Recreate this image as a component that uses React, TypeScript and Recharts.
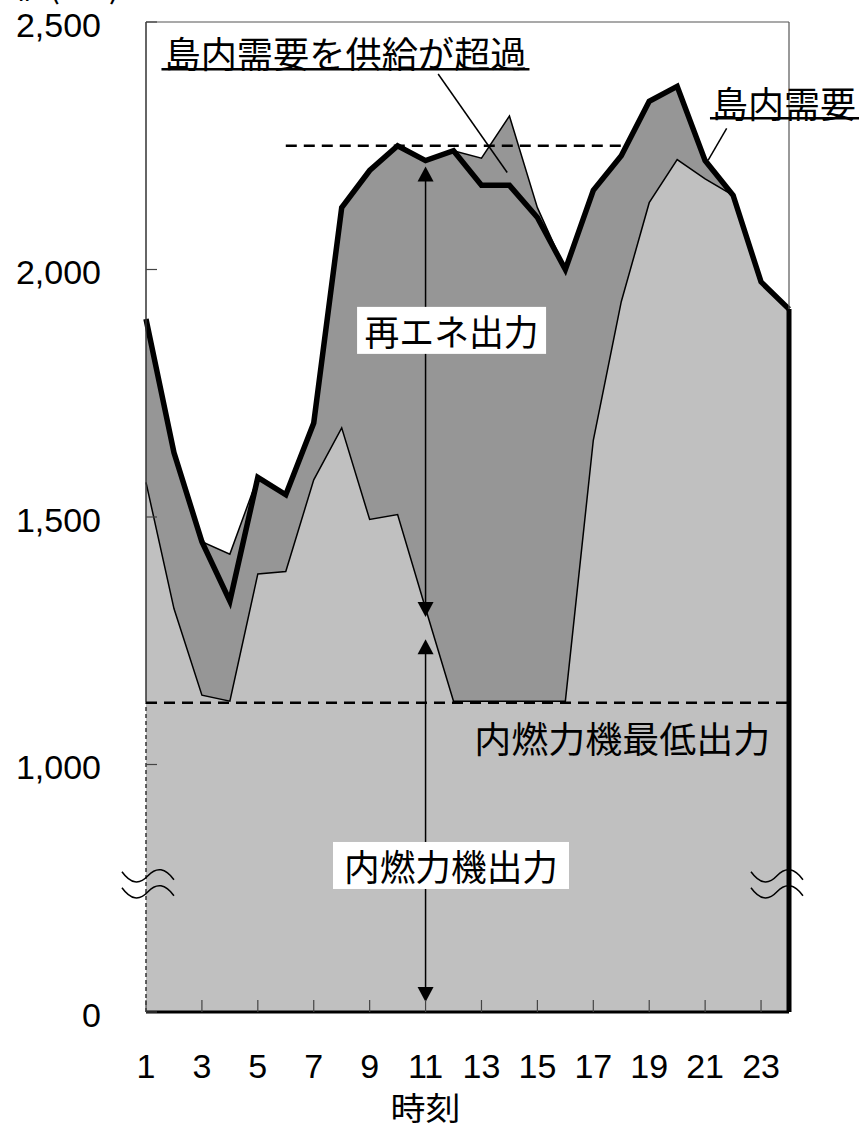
import React from 'react';
import { ComposedChart, Area, Line, XAxis, YAxis, ReferenceLine, ReferenceDot } from 'recharts';

// ---- data ----
const hours = [1, 2, 3, 4, 5, 6, 7, 8, 9, 10, 11, 12, 13, 14, 15, 16, 17, 18, 19, 20, 21, 22, 23, 24];
const demand = [1900, 1630, 1450, 1330, 1580, 1545, 1690, 2125, 2200, 2250, 2220, 2240, 2170, 2170, 2105, 2000, 2160, 2230, 2340, 2370, 2220, 2150, 1975, 1920];
const supply = [1900, 1630, 1450, 1425, 1580, 1545, 1690, 2125, 2200, 2250, 2220, 2240, 2225, 2310, 2125, 2000, 2160, 2230, 2340, 2370, 2220, 2150, 1975, 1920];
const thermal = [1570, 1315, 1140, 1128, 1385, 1390, 1575, 1680, 1495, 1505, 1315, 1128, 1128, 1128, 1128, 1128, 1655, 1935, 2135, 2222, 2183, 2150, 1975, 1920];
const xTicks = [1, 3, 5, 7, 9, 11, 13, 15, 17, 19, 21, 23];
const yTicks = [500, 1000, 1500, 2000, 2500];
const yTickLabels = ['0', '1,000', '1,500', '2,000', '2,500'];
const minThermalOutput = 1125;
const excessLevel = 2250;

const data = hours.map((h, i) => ({ hour: h, demand: demand[i], supply: supply[i], thermal: thermal[i] }));

const JP = '"Noto Sans CJK JP", "Noto Sans CJK SC", sans-serif';
const NUM = '"Liberation Sans", Arial, sans-serif';

const YTick = (props: any) => {
  const { x, y, payload } = props;
  const idx = yTicks.indexOf(payload.value);
  return (
    <g>
      <line x1={x} x2={x + 11} y1={y} y2={y} stroke="#444" strokeWidth={1.2} />
      <text x={x - 45} y={y + 14.5} textAnchor="end" fontSize={34} fontFamily={NUM} fill="#000">
        {idx >= 0 ? yTickLabels[idx] : payload.value}
      </text>
    </g>
  );
};

const XTick = (props: any) => {
  const { x, y, payload } = props;
  return (
    <g>
      <line x1={x} x2={x} y1={y} y2={y - 12} stroke="#444" strokeWidth={1.2} />
      <text x={x} y={y + 66} textAnchor="middle" fontSize={34} fontFamily={NUM} fill="#000">
        {payload.value}
      </text>
    </g>
  );
};

const boxedLabel = (text: string, w: number, h: number, tl: number) => (props: any) => {
  const { cx, cy } = props;
  return (
    <g>
      <rect x={cx - w / 2} y={cy - h / 2} width={w} height={h} fill="#fff" />
      <text x={cx} y={cy} textAnchor="middle" dominantBaseline="central" fontSize={36} fontFamily={JP} fill="#000"
        textLength={tl} lengthAdjust="spacingAndGlyphs">{text}</text>
    </g>
  );
};

const plainLabel = (text: string, tl: number, fs = 36) => (props: any) => {
  const { cx, cy } = props;
  return (
    <text x={cx} y={cy} textAnchor="middle" dominantBaseline="central" fontSize={fs} fontFamily={JP} fill="#000"
      textLength={tl} lengthAdjust="spacingAndGlyphs">{text}</text>
  );
};

const underlinedLabel = (text: string, tl: number, lineLeft: number, lineRight: number, lineDy: number) => (props: any) => {
  const { cx, cy } = props;
  return (
    <g>
      <text x={cx} y={cy} textAnchor="middle" dominantBaseline="central" fontSize={36} fontFamily={JP} fill="#000"
        textLength={tl} lengthAdjust="spacingAndGlyphs">{text}</text>
      <line x1={cx - lineLeft} x2={cx + lineRight} y1={cy + lineDy} y2={cy + lineDy} stroke="#000" strokeWidth={2.5} />
    </g>
  );
};

const BreakMark = (props: any) => {
  const { cx, cy } = props;
  const wave = (dy: number) =>
    `M ${cx - 26} ${cy + dy - 4} Q ${cx - 13} ${cy + dy + 14} ${cx} ${cy + dy} Q ${cx + 13} ${cy + dy - 14} ${cx + 26} ${cy + dy + 4}`;
  return (
    <g>
      <path d={wave(-8)} fill="none" stroke="#000" strokeWidth={1.5} />
      <path d={wave(8)} fill="none" stroke="#000" strokeWidth={1.5} />
    </g>
  );
};

const DoubleArrow = (props: any) => {
  const { x1, y1, y2 } = props;
  const top = Math.min(y1, y2);
  const bot = Math.max(y1, y2);
  const x = x1;
  return (
    <g>
      <line x1={x} x2={x} y1={top + 10} y2={bot - 10} stroke="#000" strokeWidth={1.5} />
      <polygon points={`${x},${top} ${x - 8},${top + 15} ${x + 8},${top + 15}`} fill="#000" />
      <polygon points={`${x},${bot} ${x - 8},${bot - 15} ${x + 8},${bot - 15}`} fill="#000" />
    </g>
  );
};

const TopCutText = (props: any) => {
  const { cx, cy } = props;
  return (
    <g>
      <text x={cx} y={cy} fontSize={34} fontFamily={JP} fill="#000">値(kW)</text>
    </g>
  );
};

export default function App() {
  return (
    <div style={{ position: 'absolute', left: 0, top: 0, width: 859, height: 1132, background: '#fff' }}>
      <ComposedChart width={859} height={1132} data={data} margin={{ top: 22, right: 70, bottom: 0, left: 0 }}>
        <XAxis dataKey="hour" type="number" domain={[1, 24]} ticks={xTicks} interval={0} height={120}
          tickSize={0} tickMargin={0} tickLine={false} axisLine={{ stroke: '#000', strokeWidth: 3 }}
          tick={(p: any) => <XTick {...p} />} allowDecimals={false} />
        <YAxis type="number" domain={[500, 2500]} ticks={yTicks} interval={0} width={146}
          tickSize={0} tickMargin={0} tickLine={false} axisLine={false} tick={(p: any) => <YTick {...p} />} />

        <Area dataKey="supply" type="linear" baseValue="dataMin" fill="#969696" fillOpacity={1}
          stroke="#000" strokeWidth={1.5} isAnimationActive={false} dot={false} activeDot={false} />
        <Area dataKey="thermal" type="linear" baseValue="dataMin" fill="#C0C0C0" fillOpacity={1}
          stroke="#000" strokeWidth={1.5} isAnimationActive={false} dot={false} activeDot={false} />
        <Line dataKey="demand" type="linear" stroke="#000" strokeWidth={5.5} dot={false} activeDot={false}
          isAnimationActive={false} />

        {/* frame */}
        <ReferenceLine y={2500} stroke="#555" strokeWidth={1.2} />
        <ReferenceLine segment={[{ x: 1, y: minThermalOutput }, { x: 1, y: 2500 }]} stroke="#333" strokeWidth={1.5} />
        <ReferenceLine segment={[{ x: 1, y: 500 }, { x: 1, y: minThermalOutput }]} stroke="#333" strokeWidth={1.5} strokeDasharray="4 3" />
        <ReferenceLine segment={[{ x: 24, y: demand[23] }, { x: 24, y: 2500 }]} stroke="#555" strokeWidth={1.2} />
        <ReferenceLine segment={[{ x: 24, y: 500 }, { x: 24, y: demand[23] }]} stroke="#000" strokeWidth={5} />

        {/* dashed levels */}
        <ReferenceLine segment={[{ x: 1, y: minThermalOutput }, { x: 24, y: minThermalOutput }]} stroke="#000" strokeWidth={2.5} strokeDasharray="11 7" />
        <ReferenceLine segment={[{ x: 6, y: excessLevel }, { x: 18, y: excessLevel }]} stroke="#000" strokeWidth={2.5} strokeDasharray="11 7" />

        {/* arrows */}
        <ReferenceLine segment={[{ x: 11, y: 2208 }, { x: 11, y: 1298 }]} shape={DoubleArrow} />
        <ReferenceLine segment={[{ x: 11, y: 1253 }, { x: 11, y: 520 }]} shape={DoubleArrow} />

        {/* leader lines */}
        <ReferenceLine segment={[{ x: 11.45, y: 2395 }, { x: 13.92, y: 2196 }]} stroke="#000" strokeWidth={1.5} />
        <ReferenceLine segment={[{ x: 21.77, y: 2285 }, { x: 21.11, y: 2221 }]} stroke="#000" strokeWidth={1.5} />

        {/* labels */}
        <ReferenceDot x={8.135} y={2440} shape={underlinedLabel('島内需要を供給が超過', 362, 184, 184, 17.5)} ifOverflow="visible" />
        <ReferenceDot x={23.82} y={2338} shape={underlinedLabel('島内需要', 144, 74, 76, 16)} ifOverflow="visible" />
        <ReferenceDot x={11.93} y={1877} shape={boxedLabel('再エネ出力', 189, 47, 174)} />
        <ReferenceDot x={18.04} y={1056} shape={plainLabel('内燃力機最低出力', 296)} />
        <ReferenceDot x={11.91} y={796} shape={boxedLabel('内燃力機出力', 236, 47, 214)} />
        <ReferenceDot x={11} y={310} shape={plainLabel('時刻', 70, 32)} ifOverflow="visible" />

        {/* axis break marks */}
        <ReferenceDot x={1.07} y={759} shape={BreakMark} ifOverflow="visible" />
        <ReferenceDot x={23.57} y={759} shape={BreakMark} ifOverflow="visible" />

        {/* cut-off text at the very top */}
        <ReferenceDot x={-3.7} y={2548} shape={TopCutText} ifOverflow="visible" />
      </ComposedChart>
    </div>
  );
}
